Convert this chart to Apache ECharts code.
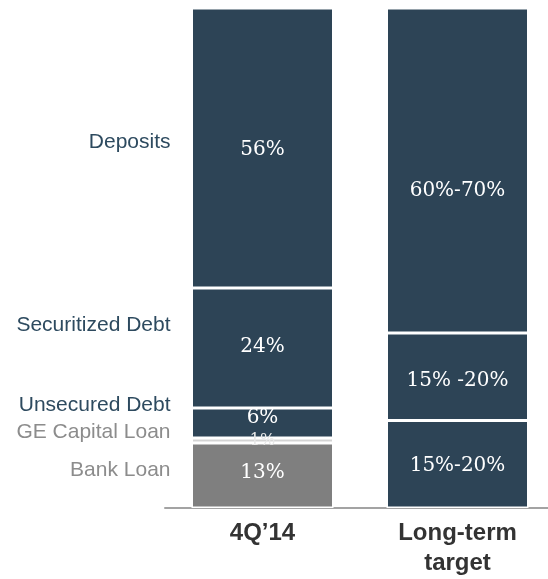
<!DOCTYPE html>
<html>
<head>
<meta charset="utf-8">
<script src="https://cdn.jsdelivr.net/npm/echarts@6/dist/echarts.min.js"></script>
<style>
html, body { margin: 0; padding: 0; background: #fff; }
#chart { width: 548px; height: 579px; }
</style>
</head>
<body>
<div id="chart"></div>
<script>
// funding mix, stacked bottom-up
var categories = ['4Q\u201914', 'Long-term\ntarget'];

var currentNames = ['Bank Loan', 'GE Capital Loan', 'Unsecured Debt', 'Securitized Debt', 'Deposits'];
var currentShares = [13, 1, 6, 24, 56];
var currentLabels = ['13%', '1%', '6%', '24%', '56%'];

var targetNames = ['Bank Loan / other', 'Unsecured / Securitized', 'Deposits'];
var targetShares = [17.5, 17.5, 65];
var targetLabels = ['15%-20%', '15% -20%', '60%-70%'];

var navy = '#2d4456';
var segColors = { 'Bank Loan': '#7f7f7f', 'GE Capital Loan': '#d4d4d4' };
var nameColors = { 'Bank Loan': '#8c8c8c', 'GE Capital Loan': '#8c8c8c' };
// small vertical nudges (px) to match the source layout
var nameNudge = { 'Deposits': -6, 'Securitized Debt': -23, 'Unsecured Debt': -18, 'GE Capital Loan': -8, 'Bank Loan': -5 };
var pctNudgeCur = [-3, 0, -5, -1, 2];
var pctNudgeTgt = [2, 4, 20];

var chart = echarts.init(document.getElementById('chart'));
var series = [];
var base = 0;
currentNames.forEach(function (name, i) {
    var v = currentShares[i];
    var mid = base + v / 2;
    base += v;
    series.push({
        name: name,
        type: 'bar',
        stack: 'current',
        barWidth: 142,
        barGap: '-100%',
        data: [v, '-'],
        itemStyle: { color: segColors[name] || navy, borderColor: '#fff', borderWidth: 1.5 },
        label: {
            show: true,
            position: 'inside',
            formatter: currentLabels[i],
            color: i === 1 ? '#e8e8e8' : '#fff',
            fontFamily: 'DejaVu Serif',
            fontSize: i === 1 ? 16 : 20,
            offset: [0, pctNudgeCur[i]]
        },
        markPoint: {
            symbol: 'rect',
            symbolSize: [142, 0],
            silent: true,
            itemStyle: { color: 'transparent' },
            label: {
                show: true,
                position: 'left',
                distance: 21,
                formatter: name,
                color: nameColors[name] || '#2d4a5f',
                fontFamily: 'Liberation Sans',
                fontSize: 21,
                offset: [0, nameNudge[name]]
            },
            data: [{ coord: [0, mid] }]
        }
    });
});
targetNames.forEach(function (name, i) {
    series.push({
        name: name,
        type: 'bar',
        stack: 'target',
        barWidth: 142,
        barGap: '-100%',
        data: ['-', targetShares[i]],
        itemStyle: { color: navy, borderColor: '#fff', borderWidth: 1.5 },
        label: {
            show: true,
            position: 'inside',
            formatter: targetLabels[i],
            color: '#fff',
            fontFamily: 'DejaVu Serif',
            fontSize: 20,
            offset: [0, pctNudgeTgt[i]]
        }
    });
});

var option = {
    animation: false,
    backgroundColor: '#fff',
    grid: { left: 165, right: -7, top: 8, bottom: 71, outerBoundsMode: 'none' },
    xAxis: {
        type: 'category',
        data: categories,
        axisLine: { lineStyle: { color: '#a3a3a3', width: 2 } },
        axisTick: { show: false },
        axisLabel: {
            color: '#333',
            fontWeight: 'bold',
            fontSize: 24,
            fontFamily: 'Liberation Sans',
            lineHeight: 30,
            margin: 10
        }
    },
    yAxis: { type: 'value', min: 0, max: 100, show: false },
    series: series
};
chart.setOption(option);
</script>
</body>
</html>
